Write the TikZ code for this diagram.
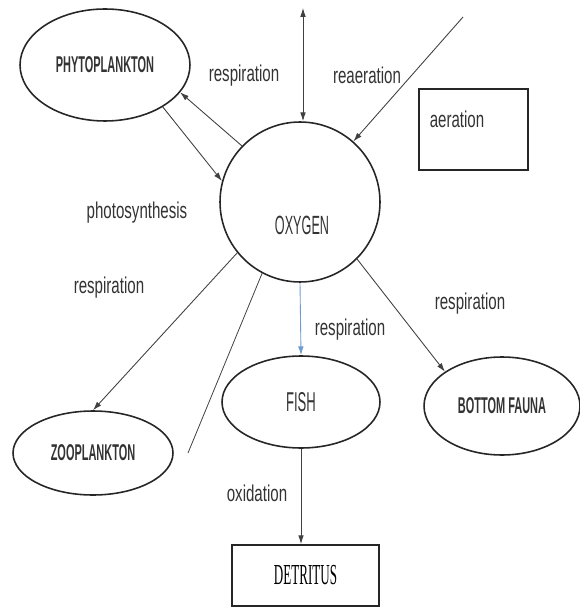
\documentclass[tikz,border=0pt]{standalone}
\usepackage{fontspec}
\newfontfamily\capfont[FakeStretch=0.48]{Liberation Sans}
\newfontfamily\lblfont[FakeStretch=0.66]{Liberation Sans}
\newfontfamily\boxfont[FakeStretch=0.45]{Liberation Serif}
\usepackage{tikz}
\usetikzlibrary{arrows.meta}
\usetikzlibrary{shapes.geometric}
\definecolor{bluearrow}{RGB}{110,155,210}

\begin{document}
\begin{tikzpicture}
  [x=0.02cm, y=-0.02cm,
  >={Latex[length=5pt,width=3.2pt]},
  blob/.style={ellipse, draw=black!85, line width=0.9pt, inner sep=0pt},
  caps/.style={font=\capfont\fontsize{15}{17}\selectfont, text=black!80},
  bcaps/.style={font=\capfont\bfseries\fontsize{13}{15}\selectfont, text=black!80},
  lbl/.style={font=\lblfont\fontsize{13}{15}\selectfont, text=black!80},
  flow/.style={draw=black!75, line width=0.5pt, ->},
  plain/.style={draw=black!75, line width=0.45pt},
  boxed/.style={draw=black!85, line width=1pt, inner sep=0pt}]
\useasboundingbox (0,0) rectangle (580,607);

% the five living/oxygen pools
\node [blob, minimum width=3.4cm, minimum height=2.24cm, bcaps] (phyto) at (105,65) {PHYTOPLANKTON};
\node [circle, draw=black!85, line width=0.9pt, minimum size=3.2cm] (oxygen) at (300,202) {};
\node [caps] (oxylbl) at (302,225) {OXYGEN};
\node [blob, minimum width=3.2cm, minimum height=1.68cm, bcaps] (zoo) at (93,453) {ZOOPLANKTON};
\node [blob, minimum width=3.16cm, minimum height=1.84cm, caps, font=\capfont\fontsize{15.5}{17}\selectfont] (fish) at (301,402) {FISH};
\node [blob, minimum width=3.12cm, minimum height=1.96cm, bcaps] (fauna) at (502,406) {BOTTOM FAUNA};

% boxes
\node [boxed, minimum width=2.18cm, minimum height=1.62cm] (aerbox) at (473.5,129.5) {};
\node [lbl] (aerlbl) at (457,119) {aeration};
\node [boxed, minimum width=2.94cm, minimum height=1.22cm,
  font=\boxfont\fontsize{16.5}{18}\selectfont] (detritus) at (305.5,575.5) {DETRITUS};

% connectors
\coordinate (airtop) at (303,8);
\coordinate (reatop) at (463,17);
\coordinate (zootail) at (188,453);
\draw [flow, <->] (airtop) -- (airtop |- oxygen.north);
\draw [flow] (reatop) -- (oxygen);
\draw [flow] (oxygen.136) -- (phyto.-20);
\draw [flow] (phyto.-36) -- (oxygen.165);
\draw [flow] (oxygen.219) -- (zoo.north);
\draw [plain] (oxygen.242) -- (zootail);
\draw [flow, draw=bluearrow] (oxygen.south) -- (fish.north);
\draw [flow] (oxygen.-45) -- (fauna.149);
\draw [flow] (fish.south) -- (fish.south |- detritus.north);

% process labels
\node [lbl] (resptop) at (244,76) {respiration};
\node [lbl] (reaer) at (367,75) {reaeration};
\node [lbl] (photo) at (137,213) {photosynthesis};
\node [lbl] (respzoo) at (109,288) {respiration};
\node [lbl] (respfish) at (350,330) {respiration};
\node [lbl] (respfauna) at (470,304) {respiration};
\node [lbl] (oxid) at (257,493) {oxidation};
\end{tikzpicture}
\end{document}
